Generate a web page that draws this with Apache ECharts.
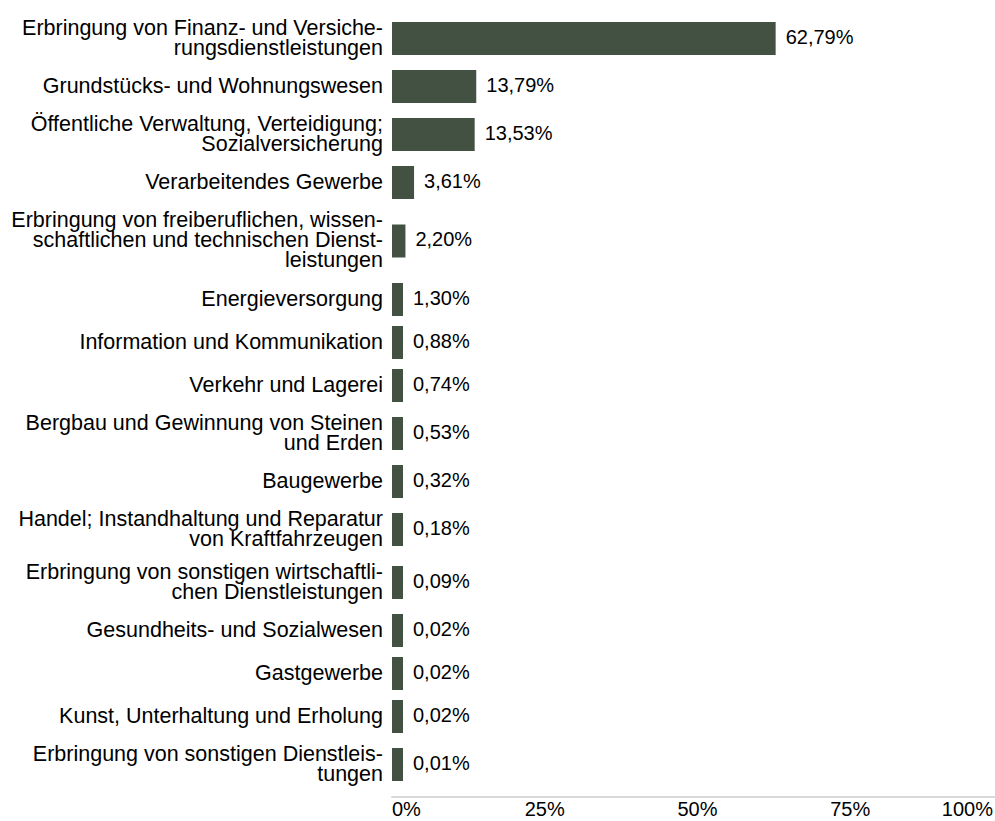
<!DOCTYPE html>
<html>
<head>
<meta charset="utf-8">
<script src="https://cdn.jsdelivr.net/npm/echarts@6/dist/echarts.min.js"></script>
<style>
  html, body { margin: 0; padding: 0; background: #fff; }
  #main { width: 995px; height: 821px; }
</style>
</head>
<body>
<div id="main"></div>
<script>
// Wirtschaftszweige, Anteil in %
var categories = [
  'Erbringung von Finanz- und Versiche-\nrungsdienstleistungen',
  'Grundstücks- und Wohnungswesen',
  'Öffentliche Verwaltung, Verteidigung;\nSozialversicherung',
  'Verarbeitendes Gewerbe',
  'Erbringung von freiberuflichen, wissen-\nschaftlichen und technischen Dienst-\nleistungen',
  'Energieversorgung',
  'Information und Kommunikation',
  'Verkehr und Lagerei',
  'Bergbau und Gewinnung von Steinen\nund Erden',
  'Baugewerbe',
  'Handel; Instandhaltung und Reparatur\nvon Kraftfahrzeugen',
  'Erbringung von sonstigen wirtschaftli-\nchen Dienstleistungen',
  'Gesundheits- und Sozialwesen',
  'Gastgewerbe',
  'Kunst, Unterhaltung und Erholung',
  'Erbringung von sonstigen Dienstleis-\ntungen'
];
var values = [62.79, 13.79, 13.53, 3.61, 2.20, 1.30, 0.88, 0.74, 0.53, 0.32, 0.18, 0.09, 0.02, 0.02, 0.02, 0.01];
var xTicks = [0, 25, 50, 75, 100];

// row height (px) by number of label lines
var rowHeight = { 1: 43, 2: 53, 3: 74 };
var barColor = '#435143';
var barHeight = 33;
var minBarWidth = 11;
var font = '"Liberation Sans", Arial, sans-serif';

var rows = [];
var pos = 0;
categories.forEach(function (name, i) {
  var h = rowHeight[name.split('\n').length];
  rows.push([values[i], pos + h / 2, name]);
  pos += h;
});
var total = pos;

var chart = echarts.init(document.getElementById('main'), null, { renderer: 'svg' });

function fmt(v) {
  return v.toFixed(2).replace('.', ',') + '%';
}

var option = {
  animation: false,
  grid: { left: 392, right: -8, top: 12, height: total, outerBoundsMode: 'none' },
  xAxis: {
    type: 'value',
    position: 'bottom',
    min: xTicks[0],
    max: xTicks[xTicks.length - 1],
    interval: xTicks[1] - xTicks[0],
    offset: 6,
    axisLine: { show: true, onZero: false, lineStyle: { color: '#d9d9d9', width: 2 } },
    axisTick: { show: false },
    splitLine: { show: false },
    axisLabel: {
      formatter: function (v) {
        return v === xTicks[xTicks.length - 1] ? '{last|' + v + '%}' : v + '%';
      },
      color: '#000',
      fontSize: 20,
      fontFamily: font,
      margin: 2,
      alignMinLabel: 'left',
      alignMaxLabel: 'right',
      rich: {
        last: { fontSize: 20, fontFamily: font, color: '#000', padding: [0, 10, 0, 0] }
      }
    }
  },
  yAxis: {
    type: 'value',
    inverse: true,
    min: 0,
    max: total,
    show: false
  },
  series: [{
    type: 'custom',
    data: rows,
    encode: { x: 0, y: 1 },
    renderItem: function (params, api) {
      var v = api.value(0);
      var yc = api.value(1);
      var name = rows[params.dataIndex][2];
      var start = api.coord([0, yc]);
      var end = api.coord([v, yc]);
      var w = Math.max(end[0] - start[0], minBarWidth);
      return {
        type: 'group',
        children: [{
          type: 'rect',
          shape: { x: start[0], y: start[1] - barHeight / 2, width: w, height: barHeight },
          style: { fill: barColor }
        }, {
          type: 'text',
          x: start[0] + w + 10,
          y: start[1] - 2,
          style: {
            text: fmt(v),
            fill: '#000',
            fontSize: 20,
            fontFamily: font,
            align: 'left',
            verticalAlign: 'middle'
          }
        }, {
          type: 'text',
          x: start[0] - 9,
          y: start[1] - 1,
          style: {
            text: name,
            fill: '#000',
            fontSize: 21.5,
            fontFamily: font,
            lineHeight: 20,
            align: 'right',
            verticalAlign: 'middle'
          }
        }]
      };
    }
  }]
};

chart.setOption(option);
</script>
</body>
</html>
